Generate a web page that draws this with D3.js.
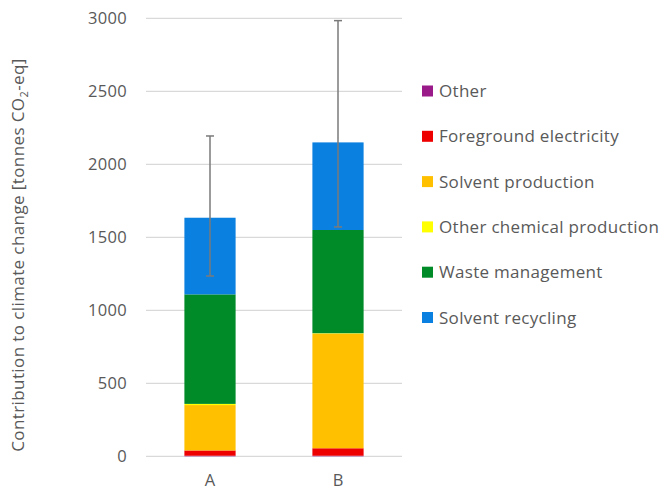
<!DOCTYPE html>
<html>
<head>
<meta charset="utf-8">
<script src="https://cdn.jsdelivr.net/npm/d3@7"></script>
<style>
  html, body { margin: 0; padding: 0; background: #fff; }
  svg { display: block; }
  text { font-family: "Open Sans", Roboto, "Liberation Sans", Arial, sans-serif; fill: #595959; }
</style>
</head>
<body>
<svg id="chart" width="659" height="490"></svg>
<script>
// Scenario categories
const categories = ["A", "B"];

// Contribution of each source, tonnes CO2-eq (stacked bottom to top)
const seriesNames = ["Other", "Foreground electricity", "Solvent production",
                     "Other chemical production", "Waste management", "Solvent recycling"];
const other              = [4, 4];
const foregroundElec     = [36, 51];
const solventProduction  = [311, 785];
const otherChemical      = [8, 3];
const wasteManagement    = [750, 707];
const solventRecycling   = [525, 600];

// Uncertainty range around each total (lower and upper bound)
const errorLow  = [1235, 1571];
const errorHigh = [2194, 2984];

// Y axis ticks
const yTicks = [0, 500, 1000, 1500, 2000, 2500, 3000];

const colors = ["#9A1A8A", "#EE0000", "#FFC000", "#FFFF00", "#008A28", "#0A80E0"];
const fontStack = "'Open Sans', Roboto, 'Liberation Sans', Arial, sans-serif";

const seriesValues = [other, foregroundElec, solventProduction, otherChemical, wasteManagement, solventRecycling];
const rows = categories.map((c, i) => {
  const r = { category: c };
  seriesNames.forEach((s, k) => { r[s] = seriesValues[k][i]; });
  return r;
});

const svg = d3.select("#chart");
const margin = { left: 146, right: 257, top: 18.3, bottom: 33.7 };
const width = 659, height = 490;

const x = d3.scaleBand()
  .domain(categories)
  .range([margin.left, width - margin.right])
  .paddingInner(0.6)
  .paddingOuter(0.3);

const y = d3.scaleLinear()
  .domain([0, 3000])
  .range([height - margin.bottom, margin.top]);

// Gridlines
svg.append("g")
  .selectAll("line")
  .data(yTicks)
  .join("line")
  .attr("x1", margin.left)
  .attr("x2", width - margin.right)
  .attr("y1", d => y(d))
  .attr("y2", d => y(d))
  .attr("stroke", "#d9d9d9")
  .attr("stroke-width", 1.2);

// Y axis labels
const yAxis = d3.axisLeft(y).tickValues(yTicks).tickSize(0).tickPadding(0).tickFormat(d3.format("d"));
const gy = svg.append("g")
  .attr("transform", `translate(${margin.left - 19},0)`)
  .call(yAxis);
gy.select(".domain").remove();
gy.selectAll("text")
  .attr("font-size", 16.5)
  .attr("fill", "#595959")
  .style("letter-spacing", "0.3px")
  .style("font-family", fontStack);

// X axis labels
const xAxis = d3.axisBottom(x).tickSize(0).tickPadding(0);
const gx = svg.append("g")
  .attr("transform", `translate(0,${y(0) + 18})`)
  .call(xAxis);
gx.select(".domain").remove();
gx.selectAll("text")
  .attr("font-size", 16.5)
  .attr("fill", "#595959")
  .style("font-family", fontStack);

// Stacked bars
const stack = d3.stack().keys(seriesNames);
const stacked = stack(rows);

svg.append("g")
  .selectAll("g")
  .data(stacked)
  .join("g")
  .attr("fill", (d, i) => colors[i])
  .selectAll("rect")
  .data(d => d)
  .join("rect")
  .attr("x", d => x(d.data.category))
  .attr("width", x.bandwidth())
  .attr("y", d => y(d[1]))
  .attr("height", d => Math.max(0, y(d[0]) - y(d[1])));

// Error bars
const err = svg.append("g").attr("stroke", "#7a7a7a").attr("stroke-width", 1.5);
categories.forEach((c, i) => {
  const cx = x(c) + x.bandwidth() / 2;
  err.append("line").attr("x1", cx).attr("x2", cx).attr("y1", y(errorLow[i])).attr("y2", y(errorHigh[i]));
  [errorLow[i], errorHigh[i]].forEach(v => {
    err.append("line").attr("x1", cx - 4).attr("x2", cx + 4).attr("y1", y(v)).attr("y2", y(v));
  });
});

// Y axis title with subscript
const title = svg.append("text")
  .attr("transform", `translate(24,255) rotate(-90)`)
  .attr("text-anchor", "middle")
  .attr("font-size", 17)
  .style("letter-spacing", "0.4px");
title.append("tspan").text("Contribution to climate change [tonnes CO");
title.append("tspan").attr("font-size", 11).attr("dy", 4).text("2");
title.append("tspan").attr("dy", -4).text("-eq]");

// Legend
const legend = svg.append("g").attr("transform", "translate(422,0)");
const legendY = d3.scalePoint().domain(seriesNames).range([91, 317.5]);
const li = legend.selectAll("g")
  .data(seriesNames)
  .join("g")
  .attr("transform", d => `translate(0,${legendY(d)})`);
li.append("rect")
  .attr("x", 0).attr("y", -5.5)
  .attr("width", 11).attr("height", 11)
  .attr("fill", (d, i) => colors[i]);
li.append("text")
  .attr("x", 17)
  .attr("dy", "0.36em")
  .attr("font-size", 17)
  .style("letter-spacing", "0.3px")
  .text(d => d);
</script>
</body>
</html>
